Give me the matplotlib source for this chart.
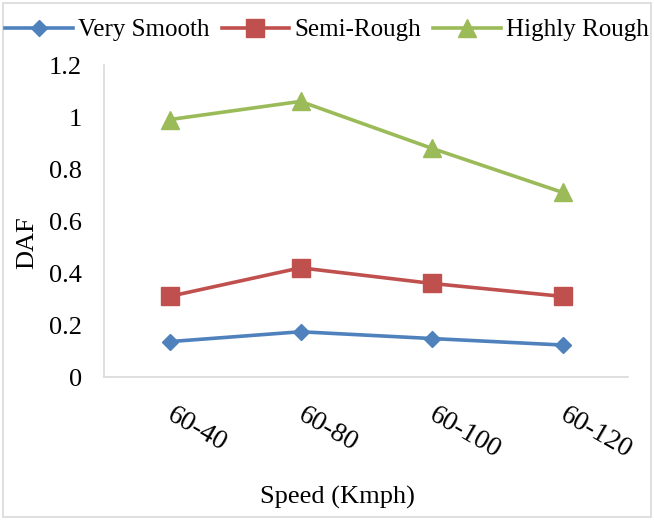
import matplotlib
matplotlib.use("Agg")
import matplotlib.pyplot as plt
import matplotlib.transforms as mtransforms
from matplotlib.patches import Rectangle

speeds = ["60-40", "60-80", "60-100", "60-120"]
very_smooth = [0.136, 0.174, 0.148, 0.123]
semi_rough = [0.31, 0.42, 0.36, 0.31]
highly_rough = [0.99, 1.06, 0.88, 0.71]
yticks = [0, 0.2, 0.4, 0.6, 0.8, 1.0, 1.2]
ytick_labels = ["0", "0.2", "0.4", "0.6", "0.8", "1", "1.2"]

plt.rcParams['font.family'] = ['Liberation Serif', 'DejaVu Serif']
plt.rcParams['font.size'] = 19

fig = plt.figure(figsize=(6.54, 5.2), dpi=100)
ax = fig.add_axes([104 / 654, 1 - 377 / 520, 524 / 654, 312 / 520])

x = list(range(len(speeds)))
ax.plot(x, very_smooth, color='#4F81BD', lw=2.6, marker='D', ms=8.5, label='Very Smooth')
ax.plot(x, semi_rough, color='#C0504D', lw=2.6, marker='s', ms=13, label='Semi-Rough')
ax.plot(x, highly_rough, color='#9BBB59', lw=2.6, marker='^', ms=13, label='Highly Rough')

ax.set_xlim(-0.5, 3.5)
ax.set_ylim(0, 1.2)
ax.set_yticks(yticks)
ax.set_yticklabels(ytick_labels)
ax.set_xticks(x)
ax.set_xticklabels([])

# rotated category labels, shifted a bit right and down like the original
offset = mtransforms.ScaledTranslation(6 / 100, -26 / 100, fig.dpi_scale_trans)
for i, s in zip(x, speeds):
    ax.text(i, 0, s, rotation=-30, ha='left', va='top', rotation_mode='anchor',
            fontsize=20, transform=ax.get_xaxis_transform() + offset)

ax.tick_params(axis='both', length=0)
ax.tick_params(axis='y', pad=16)
for side in ['top', 'right']:
    ax.spines[side].set_visible(False)
for side in ['left', 'bottom']:
    ax.spines[side].set_color('#d9d9d9')
    ax.spines[side].set_linewidth(1.2)

fig.text(27 / 654, 1 - 243 / 520, 'DAF', rotation=90, ha='center', va='center')
fig.text(337 / 654, 1 - 497 / 520, 'Speed (Kmph)', ha='center', va='center')

fig.legend(loc='center', bbox_to_anchor=(0.5, 1 - 30 / 520), ncol=3, frameon=False,
           fontsize=18, handlelength=2.7, handletextpad=0.2, columnspacing=0.5,
           borderaxespad=0)

fig.patches.append(Rectangle((0.005, 0.005), 0.99, 0.99, transform=fig.transFigure,
                             fill=False, edgecolor='#d9d9d9', lw=1.2))

fig.savefig('out.png', dpi=100)
